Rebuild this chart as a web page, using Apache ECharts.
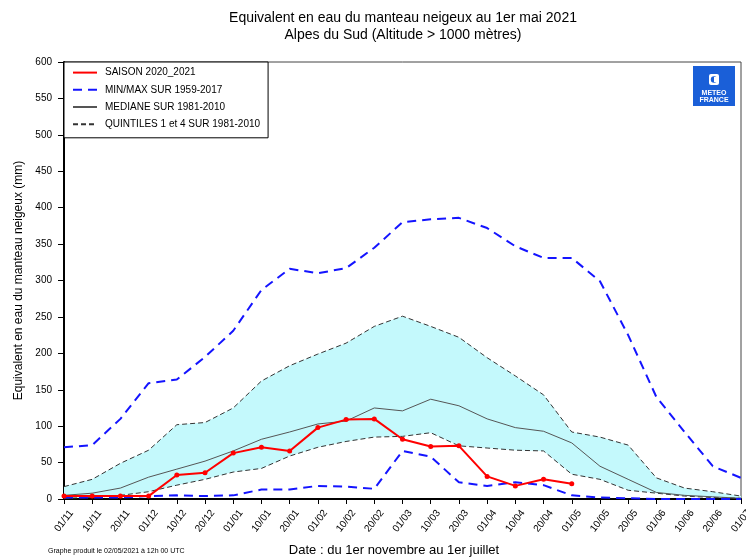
<!DOCTYPE html>
<html>
<head>
<meta charset="utf-8">
<script src="https://cdn.jsdelivr.net/npm/echarts@6/dist/echarts.min.js"></script>
<style>
  html, body { margin: 0; padding: 0; background: #fff; }
  #chart { width: 746px; height: 557px; }
</style>
</head>
<body>
<div id="chart"></div>
<script>
// dates du 1er novembre au 1er juillet (pas de 10 jours)
var dates = ["01/11", "10/11", "20/11", "01/12", "10/12", "20/12", "01/01", "10/01", "20/01",
  "01/02", "10/02", "20/02", "01/03", "10/03", "20/03", "01/04", "10/04", "20/04",
  "01/05", "10/05", "20/05", "01/06", "10/06", "20/06", "01/07"];

var saison = [4, 4, 4, 4, 33, 36, 63, 71, 66, 98, 109, 110, 82, 72, 73, 31, 18, 27, 21];
var maxi = [71, 74, 110, 159, 164, 195, 231, 287, 316, 310, 317, 345, 380, 384, 386, 372, 347, 331, 331, 299, 225, 140, 92, 45, 29];
var mini = [2, 2, 2, 4, 5, 4, 5, 13, 13, 18, 17, 14, 66, 58, 23, 18, 23, 19, 5, 2, 1, 0, 0, 0, 0];
var mediane = [5, 8, 15, 30, 41, 52, 66, 82, 92, 103, 107, 125, 121, 137, 128, 110, 98, 93, 77, 45, 27, 9, 5, 3, 1];
var quintile4 = [17, 27, 49, 67, 102, 105, 125, 162, 183, 199, 214, 237, 251, 237, 222, 194, 169, 143, 92, 85, 74, 29, 15, 10, 4];
var quintile1 = [1, 2, 5, 10, 19, 27, 37, 42, 59, 71, 79, 85, 86, 91, 73, 70, 67, 66, 34, 27, 12, 8, 4, 2, 1];

var yTicks = [0, 50, 100, 150, 200, 250, 300, 350, 400, 450, 500, 550, 600];

// epaisseur de la bande entre quintiles
var bande = [];
for (var i = 0; i < quintile1.length; i++) {
  bande[i] = quintile4[i] - quintile1[i];
}

var font = "'Liberation Sans', Arial, sans-serif";
var myChart = echarts.init(document.getElementById("chart"));

var options = {
  animation: false,
  textStyle: { fontFamily: font, color: "#000" },
  title: {
    text: "Equivalent en eau du manteau neigeux au 1er mai 2021\nAlpes du Sud (Altitude > 1000 mètres)",
    left: 398,
    top: 5,
    textAlign: "center",
    textStyle: { fontFamily: font, fontSize: 14, fontWeight: "normal", color: "#000", lineHeight: 17 },
  },
  grid: {
    left: 64,
    right: 5,
    top: 62,
    bottom: 58,
    containLabel: false,
    outerBoundsMode: "none",
    show: true,
    borderColor: "#444",
    borderWidth: 1,
  },
  legend: {
    orient: "vertical",
    left: 64,
    top: 62,
    padding: [5, 8, 8, 8],
    itemGap: 6,
    itemWidth: 24,
    itemHeight: 14,
    backgroundColor: "#fff",
    borderColor: "#000",
    borderWidth: 1,
    itemStyle: { opacity: 0 },
    textStyle: { fontFamily: font, fontSize: 10, color: "#000", padding: [0, 0, 0, 3] },
    data: ["SAISON 2020_2021", "MIN/MAX SUR 1959-2017", "MEDIANE SUR 1981-2010", "QUINTILES 1 et 4 SUR 1981-2010"],
  },
  xAxis: {
    type: "category",
    boundaryGap: false,
    data: dates,
    axisLine: { lineStyle: { color: "#000", width: 2 } },
    axisTick: { show: true, length: 5, interval: 0, lineStyle: { color: "#000" } },
    axisLabel: {
      interval: 0,
      rotate: 52,
      fontSize: 10,
      color: "#000",
      margin: 22,
      align: "center",
      verticalAlign: "middle",
    },
    splitLine: { show: false },
  },
  yAxis: {
    type: "value",
    min: 0,
    max: 600,
    interval: 50,
    name: "Equivalent en eau du manteau neigeux (mm)",
    nameLocation: "middle",
    nameGap: 39,
    nameTextStyle: { fontFamily: font, fontSize: 12, color: "#000" },
    axisLine: { show: true, lineStyle: { color: "#000", width: 2 } },
    axisTick: { show: true, length: 6, lineStyle: { color: "#000" } },
    axisLabel: {
      fontSize: 10,
      color: "#000",
      margin: 12,
      formatter: function (v) { return yTicks.indexOf(v) >= 0 ? String(v) : ""; },
    },
    splitLine: { show: false },
  },
  series: [
    {
      name: "q1base",
      type: "line",
      stack: "bande",
      data: quintile1,
      symbol: "none",
      lineStyle: { opacity: 0 },
      silent: true,
      z: 1,
    },
    {
      name: "q4bande",
      type: "line",
      stack: "bande",
      data: bande,
      symbol: "none",
      lineStyle: { opacity: 0 },
      areaStyle: { color: "#c4f9fc", opacity: 1 },
      silent: true,
      z: 1,
    },
    {
      name: "QUINTILES 1 et 4 SUR 1981-2010",
      type: "line",
      data: quintile4,
      symbol: "none",
      color: "#333",
      lineStyle: { color: "#333", width: 1, type: [5, 3] },
      z: 3,
    },
    {
      name: "QUINTILES 1 et 4 SUR 1981-2010",
      type: "line",
      data: quintile1,
      symbol: "none",
      color: "#333",
      lineStyle: { color: "#333", width: 1, type: [5, 3] },
      z: 3,
    },
    {
      name: "MEDIANE SUR 1981-2010",
      type: "line",
      data: mediane,
      symbol: "none",
      color: "#555",
      lineStyle: { color: "#555", width: 1 },
      z: 3,
    },
    {
      name: "MIN/MAX SUR 1959-2017",
      type: "line",
      data: maxi,
      symbol: "none",
      color: "#1414ff",
      lineStyle: { color: "#1414ff", width: 2, type: [9, 6] },
      z: 4,
    },
    {
      name: "MIN/MAX SUR 1959-2017",
      type: "line",
      data: mini,
      symbol: "none",
      color: "#1414ff",
      lineStyle: { color: "#1414ff", width: 2, type: [9, 6] },
      z: 4,
    },
    {
      name: "SAISON 2020_2021",
      type: "line",
      data: saison,
      symbol: "circle",
      symbolSize: 5,
      color: "#ff0000",
      itemStyle: { color: "#ff0000" },
      lineStyle: { color: "#ff0000", width: 2 },
      z: 5,
    },
  ],
  graphic: [
    {
      type: "group",
      left: 693,
      top: 66,
      children: [
        { type: "rect", shape: { x: 0, y: 0, width: 42, height: 40 }, style: { fill: "#1a5fd8" } },
        { type: "rect", shape: { x: 16, y: 8, width: 10, height: 11, r: 2 }, style: { fill: "#fff" } },
        { type: "circle", shape: { cx: 21, cy: 13.5, r: 3.2 }, style: { fill: "#1a5fd8" } },
        { type: "rect", shape: { x: 21, y: 11, width: 5, height: 5 }, style: { fill: "#fff" } },
        {
          type: "text",
          style: { x: 21, y: 27, text: "METEO", align: "center", verticalAlign: "middle",
            fill: "#fff", font: "bold 7px " + font },
        },
        {
          type: "text",
          style: { x: 21, y: 34, text: "FRANCE", align: "center", verticalAlign: "middle",
            fill: "#fff", font: "bold 7px " + font },
        },
      ],
    },
    {
      // titre de l'axe des x
      type: "text",
      x: 394,
      y: 550,
      style: { text: "Date : du 1er novembre au 1er juillet", align: "center", verticalAlign: "middle",
        fill: "#000", font: "13px " + font },
    },
    {
      type: "text",
      left: 48,
      top: 548,
      style: { text: "Graphe produit le 02/05/2021 à 12h 00 UTC", fill: "#000", font: "7px " + font },
    },
  ],
};

myChart.setOption(options);
window.addEventListener("resize", function () {
  myChart.resize();
});
</script>
</body>
</html>
